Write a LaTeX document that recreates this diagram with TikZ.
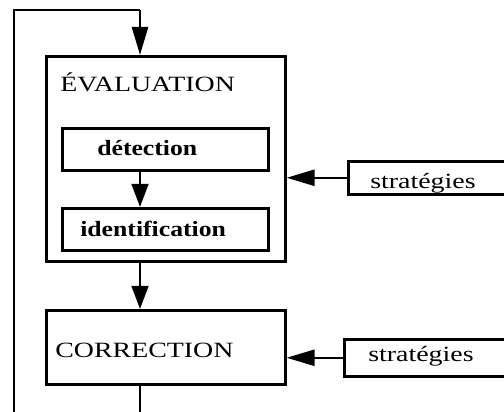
\documentclass[tikz,border=0pt]{standalone}
\usepackage{fontspec}
\setmainfont{Liberation Serif}
\usetikzlibrary{arrows.meta,positioning}

\tikzset{
  boite/.style={draw, line width=1.8pt, inner sep=0pt, anchor=north west},
  titre/.style={anchor=base west, inner sep=0pt, font=\fontsize{15.5}{18}\selectfont},
  fleche/.style={-{Triangle[length=0.7cm,width=0.4cm]}, line width=1.8pt},
  petite/.style={-{Triangle[length=0.58cm,width=0.42cm]}, line width=1.8pt},
}

\begin{document}
\begin{tikzpicture}[x=0.025cm, y=-0.025cm]
    \useasboundingbox (0,0) rectangle (504,412);
    \clip (0,0) rectangle (504,412);

    % boites
    \node[boite, minimum width=5.975cm, minimum height=5.125cm] (eval) at (45,55) {};
    \node[boite, minimum width=5.15cm, minimum height=1.05cm] (detect) at (61,127) {};
    \node[boite, minimum width=5.15cm, minimum height=1.05cm] (ident) at (61,207) {};
    \node[boite, minimum width=5.975cm, minimum height=1.85cm] (corr) at (45,309) {};
    \node[boite, minimum width=5cm, minimum height=0.825cm] (strat1) at (347,160) {};
    \node[boite, minimum width=5cm, minimum height=0.925cm] (strat2) at (343,338) {};

    % textes
    \node[titre] (evaltxt) at (60,92) {\scalebox{1.28}[1]{ÉVALUATION}};
    \node[titre] (detecttxt) at (97,156) {\scalebox{1.18}[1]{\bfseries détection}};
    \node[titre] (identtxt) at (80,236) {\scalebox{1.18}[1]{\bfseries identification}};
    \node[titre] (corrtxt) at (55,357) {\scalebox{1.28}[1]{CORRECTION}};
    \node[titre] (strat1txt) at (370,189) {\scalebox{1.28}[1]{stratégies}};
    \node[titre] (strat2txt) at (368,361) {\scalebox{1.28}[1]{stratégies}};

    % boucle
    \coordinate (haut) at (140,10);
    \coordinate (gauche) at (14,10);
    \coordinate (bas) at (14,412);
    \coordinate (sortie) at (140,412);
    \draw[line width=1.8pt] (bas) -- (gauche) -- (haut);
    \draw[fleche] (haut) -- (haut |- eval.north);
    \draw[petite] (detect.south -| haut) -- (ident.north -| haut);
    \draw[petite] (eval.south -| haut) -- (corr.north -| haut);
    \draw[line width=1.8pt] (corr.south -| haut) -- (sortie);

    % strategies
    \draw[fleche] (strat1.west) -- (strat1.west -| eval.east);
    \draw[fleche] (strat2.west) -- (strat2.west -| corr.east);
\end{tikzpicture}
\end{document}
